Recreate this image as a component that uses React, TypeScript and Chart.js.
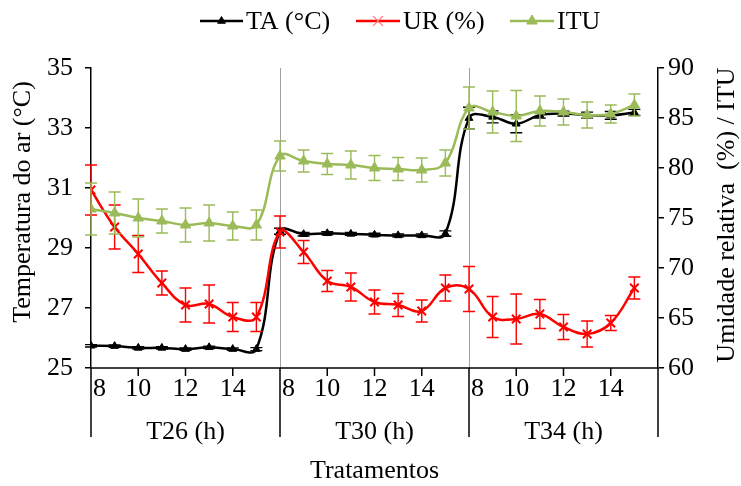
import React, { useEffect, useRef } from "react";
import { Chart, registerables } from "chart.js";

Chart.register(...registerables);

// ---- data ----
const groups = ["T26 (h)", "T30 (h)", "T34 (h)"];
const hours = [8, 9, 10, 11, 12, 13, 14, 15];
const hourTickLabels = ["8", "10", "12", "14"];

const seriesNames = ["TA (°C)", "UR (%)", "ITU"];

const taValues = [
  25.74, 25.73, 25.67, 25.67, 25.63, 25.69, 25.63, 25.63,
  29.56, 29.46, 29.49, 29.47, 29.44, 29.42, 29.42, 29.48,
  33.33, 33.37, 33.14, 33.43, 33.48, 33.43, 33.42, 33.52,
];
const taErr = [
  0.04, 0.04, 0.04, 0.04, 0.04, 0.04, 0.04, 0.05,
  0.1, 0.06, 0.05, 0.05, 0.05, 0.05, 0.05, 0.09,
  0.36, 0.2, 0.3, 0.1, 0.08, 0.1, 0.13, 0.1,
];
const urValues = [
  77.8, 74.1, 71.4, 68.5, 66.3, 66.4, 65.1, 65.1,
  73.6, 71.6, 68.7, 68.1, 66.6, 66.3, 65.7, 68.0,
  67.9, 65.1, 64.9, 65.4, 64.1, 63.4, 64.5, 68.0,
];
const urErr = [
  2.5, 2.2, 1.85, 1.2, 1.7, 1.9, 1.45, 1.45,
  1.6, 1.15, 1.05, 1.4, 1.2, 1.15, 1.1, 1.3,
  2.25, 2.05, 2.5, 1.45, 1.25, 1.3, 0.75, 1.1,
];
const ituValues = [
  75.9, 75.5, 75.0, 74.7, 74.3, 74.5, 74.2, 74.3,
  81.2, 80.7, 80.4, 80.3, 80.0, 79.9, 79.8, 80.5,
  86.0, 85.6, 85.2, 85.7, 85.6, 85.3, 85.4, 86.3,
];
const ituErr = [
  2.6, 2.1, 1.9, 1.2, 1.7, 1.8, 1.4, 1.5,
  1.5, 1.1, 1.05, 1.4, 1.25, 1.15, 1.2, 1.3,
  2.1, 2.1, 2.55, 1.5, 1.3, 1.3, 0.9, 1.1,
];

const leftTitle = "Temperatura do ar (°C)";
const rightTitle = "Umidade relativa  (%) / ITU";
const xTitle = "Tratamentos";

const FONT = "'Liberation Serif', 'Times New Roman', serif";
const BLACK = "#000000";
const RED = "#FF0000";
const GREEN = "#9BBB59";

const toPoints = (vals: number[]) => vals.map((v, i) => ({ x: i, y: v }));

const errors = [taErr, urErr, ituErr];

const errorBars = {
  id: "errorBars",
  afterDatasetDraw(chart: any, args: any) {
    const meta = args.meta;
    const ds = chart.data.datasets[args.index];
    const errs = errors[args.index];
    const ys = chart.scales[meta.yAxisID];
    const ctx = chart.ctx;
    ctx.save();
    ctx.strokeStyle = ds.borderColor;
    ctx.lineWidth = 1.4;
    meta.data.forEach((pt: any, i: number) => {
      const v = ds.data[i].y;
      const e = errs[i];
      const top = ys.getPixelForValue(v + e);
      const bot = ys.getPixelForValue(v - e);
      const x = pt.x;
      ctx.beginPath();
      ctx.moveTo(x, top);
      ctx.lineTo(x, bot);
      ctx.moveTo(x - 6, top);
      ctx.lineTo(x + 6, top);
      ctx.moveTo(x - 6, bot);
      ctx.lineTo(x + 6, bot);
      ctx.stroke();
    });
    ctx.restore();
  },
};

function drawTriangle(ctx: CanvasRenderingContext2D, x: number, y: number, r: number) {
  ctx.beginPath();
  for (let k = 0; k < 3; k++) {
    const a = (k * 2 * Math.PI) / 3;
    const px = x + Math.sin(a) * r;
    const py = y - Math.cos(a) * r;
    if (k === 0) ctx.moveTo(px, py);
    else ctx.lineTo(px, py);
  }
  ctx.closePath();
  ctx.fill();
  ctx.stroke();
}

function drawCross(ctx: CanvasRenderingContext2D, x: number, y: number, r: number) {
  const d = r * Math.SQRT1_2;
  ctx.beginPath();
  ctx.moveTo(x - d, y - d);
  ctx.lineTo(x + d, y + d);
  ctx.moveTo(x - d, y + d);
  ctx.lineTo(x + d, y - d);
  ctx.stroke();
}

const decorations = {
  id: "decorations",
  beforeDatasetsDraw(chart: any) {
    const { ctx, chartArea: ca, scales } = chart;
    const xs = scales.x;
    ctx.save();
    ctx.strokeStyle = "#A0A0A0";
    ctx.lineWidth = 1;
    for (let g = 1; g < groups.length; g++) {
      const px = Math.round(xs.getPixelForValue(g * hours.length)) + 0.5;
      ctx.beginPath();
      ctx.moveTo(px, ca.top);
      ctx.lineTo(px, ca.bottom);
      ctx.stroke();
    }
    ctx.restore();
  },
  afterDraw(chart: any) {
    const { ctx, chartArea: ca, scales } = chart;
    const xs = scales.x;
    ctx.save();
    ctx.strokeStyle = BLACK;
    ctx.fillStyle = BLACK;
    ctx.lineWidth = 1.5;
    // x axis line
    ctx.beginPath();
    ctx.moveTo(ca.left, ca.bottom);
    ctx.lineTo(ca.right, ca.bottom);
    ctx.stroke();
    const n = groups.length * hours.length;
    for (let v = 0; v <= n; v += 2) {
      const px = xs.getPixelForValue(v);
      const isGroup = v % hours.length === 0;
      ctx.beginPath();
      ctx.moveTo(px, ca.bottom);
      ctx.lineTo(px, ca.bottom + (isGroup ? 69 : 8));
      ctx.stroke();
    }
    ctx.font = `26px ${FONT}`;
    ctx.textBaseline = "middle";
    groups.forEach((g, gi) => {
      hourTickLabels.forEach((h) => {
        const hi = hours.indexOf(Number(h));
        const idx = gi * hours.length + hi;
        const px = xs.getPixelForValue(idx);
        if (hi === 0) {
          ctx.textAlign = "left";
          ctx.fillText(h, px + 2, ca.bottom + 21);
        } else {
          ctx.textAlign = "center";
          ctx.fillText(h, px, ca.bottom + 21);
        }
      });
      const c = xs.getPixelForValue(gi * hours.length + hours.length / 2);
      ctx.textAlign = "center";
      ctx.fillText(g, c, ca.bottom + 64);
    });
    // x title
    ctx.textAlign = "center";
    ctx.fillText(xTitle, (ca.left + ca.right) / 2, ca.bottom + 103);
    // y titles
    ctx.save();
    ctx.translate(23, (ca.top + ca.bottom) / 2 - 16);
    ctx.rotate(-Math.PI / 2);
    ctx.fillText(leftTitle, 0, 0);
    ctx.restore();
    ctx.save();
    ctx.translate(727, (ca.top + ca.bottom) / 2 - 3);
    ctx.rotate(-Math.PI / 2);
    ctx.fillText(rightTitle, 0, 0);
    ctx.restore();

    // legend
    const items = [
      { x0: 200, x1: 243, tx: 246, color: BLACK, style: "triangle", r: 4.5, mc: BLACK },
      { x0: 356, x1: 400, tx: 403, color: RED, style: "cross", r: 7, mc: "#FF7070" },
      { x0: 510, x1: 554, tx: 557, color: GREEN, style: "triangle", r: 6, mc: GREEN },
    ];
    const ly = 21;
    items.forEach((it, i) => {
      ctx.strokeStyle = it.color;
      ctx.lineWidth = 2.5;
      ctx.beginPath();
      ctx.moveTo(it.x0, ly);
      ctx.lineTo(it.x1, ly);
      ctx.stroke();
      ctx.fillStyle = it.mc;
      ctx.strokeStyle = it.mc;
      const cx = (it.x0 + it.x1) / 2;
      if (it.style === "cross") {
        ctx.lineWidth = 1.2;
        drawCross(ctx, cx, ly, it.r);
      } else {
        ctx.lineWidth = 1;
        drawTriangle(ctx, cx, ly, it.r);
      }
      ctx.fillStyle = BLACK;
      ctx.textAlign = "left";
      ctx.fillText(seriesNames[i], it.tx, ly + 1);
    });
    ctx.restore();
  },
};

export default function App() {
  const ref = useRef<HTMLCanvasElement | null>(null);
  useEffect(() => {
    if (!ref.current) return;
    const tickFont = { family: FONT, size: 26 };
    const chart = new Chart(ref.current, {
      type: "line",
      data: {
        datasets: [
          {
            label: seriesNames[0],
            data: toPoints(taValues),
            yAxisID: "y",
            borderColor: BLACK,
            backgroundColor: BLACK,
            borderWidth: 2.5,
            pointStyle: "triangle",
            pointRadius: 4.5,
            pointBorderWidth: 1,
            tension: 0.4,
            order: 3,
          },
          {
            label: seriesNames[1],
            data: toPoints(urValues),
            yAxisID: "y1",
            borderColor: RED,
            backgroundColor: RED,
            borderWidth: 2.5,
            pointStyle: "crossRot",
            pointRadius: 6,
            pointBorderWidth: 2,
            tension: 0.4,
            order: 2,
          },
          {
            label: seriesNames[2],
            data: toPoints(ituValues),
            yAxisID: "y1",
            borderColor: GREEN,
            backgroundColor: GREEN,
            borderWidth: 2.5,
            pointStyle: "triangle",
            pointRadius: 6,
            pointBorderWidth: 1,
            tension: 0.4,
            order: 1,
          },
        ],
      },
      options: {
        animation: false,
        responsive: false,
        devicePixelRatio: 1,
        layout: { padding: { top: 68, bottom: 118, left: 0, right: 0 } },
        plugins: { legend: { display: false }, tooltip: { enabled: false } },
        scales: {
          x: { type: "linear", min: 0, max: groups.length * hours.length, display: false },
          y: {
            position: "left",
            min: 25,
            max: 35,
            ticks: { stepSize: 2, font: tickFont, color: BLACK, padding: 12 },
            grid: { drawOnChartArea: false, drawTicks: true, tickLength: 6, color: BLACK, lineWidth: 1.5 },
            border: { display: true, color: BLACK, width: 1.5 },
            afterFit: (s: any) => { s.width = 91; },
          },
          y1: {
            position: "right",
            min: 60,
            max: 90,
            ticks: { stepSize: 5, font: tickFont, color: BLACK, padding: 4 },
            grid: { drawOnChartArea: false, drawTicks: true, tickLength: 6, color: BLACK, lineWidth: 1.5 },
            border: { display: true, color: BLACK, width: 1.5 },
            afterFit: (s: any) => { s.width = 83; },
          },
        },
      } as any,
      plugins: [errorBars, decorations],
    });
    return () => chart.destroy();
  }, []);
  return (
    <div style={{ position: "absolute", left: 0, top: 0, width: 741, height: 486, background: "#fff" }}>
      <canvas ref={ref} width={741} height={486} style={{ display: "block" }} />
    </div>
  );
}
